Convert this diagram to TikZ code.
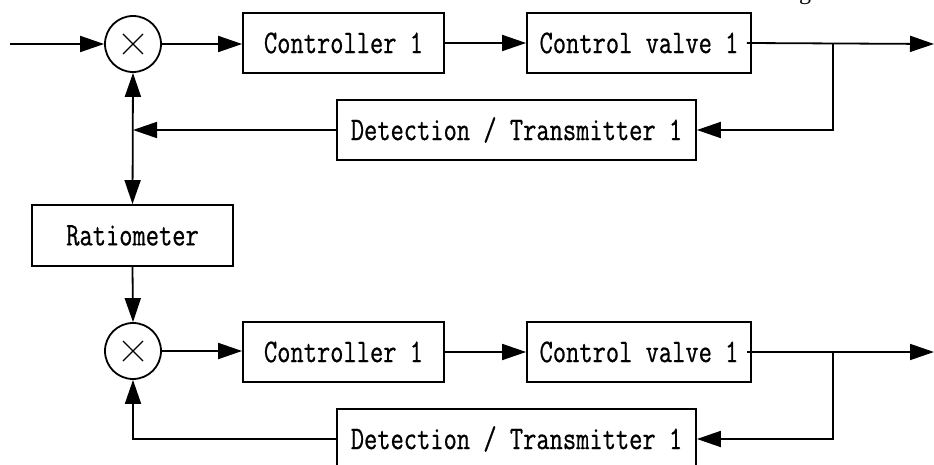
\documentclass[tikz,border=0pt]{standalone}
\usepackage{fontspec}
\setmainfont{Liberation Serif}
\newfontfamily\lblfont{Latin Modern Mono}[FakeStretch=0.78, FakeBold=0.6]
\usetikzlibrary{arrows.meta}

% narrow monospaced label text
\newcommand{\lbltext}[1]{{\lblfont\fontsize{33}{33}\selectfont #1}}

\begin{document}
\begin{tikzpicture}[x=1pt,y=-1pt,
  line width=1.8pt,
  block/.style={draw, rectangle, minimum height=60pt, inner sep=0pt},
  mult/.style={draw, circle, minimum size=56pt, inner sep=0pt},
  arr/.style={-{Triangle[length=24pt,width=16pt]}},
  darr/.style={{Triangle[length=24pt,width=16pt]}-{Triangle[length=24pt,width=16pt]}}
]
\useasboundingbox (0,0) rectangle (934,465);
\clip (0,0) rectangle (934,465);

% fragment of the caption line above
\node[anchor=base, inner sep=0pt, font=\fontsize{24}{24}\selectfont] (cap) at (805,0) {g};

% upper loop
\node[mult] (m1) at (133,44) {};
\draw[line width=1.3pt] ([shift={(-10,-10)}]m1.center) -- ([shift={(10,10)}]m1.center)
                        ([shift={(-10,10)}]m1.center) -- ([shift={(10,-10)}]m1.center);
\node[block, minimum width=201pt] (ctl1) at (343.5,43) {\lbltext{Controller 1}};
\node[block, minimum width=224pt] (cv1) at (639,43) {\lbltext{Control valve 1}};
\node[block, minimum width=359pt] (det1) at (516.5,130) {\lbltext{Detection / Transmitter 1}};

% ratio station
\node[block, minimum width=201pt, minimum height=61pt] (ratio) at (132.5,235.5) {\lbltext{Ratiometer}};

% lower loop
\node[mult] (m2) at (133,351) {};
\draw[line width=1.3pt] ([shift={(-10,-10)}]m2.center) -- ([shift={(10,10)}]m2.center)
                        ([shift={(-10,10)}]m2.center) -- ([shift={(10,-10)}]m2.center);
\node[block, minimum width=201pt] (ctl2) at (343.5,352) {\lbltext{Controller 1}};
\node[block, minimum width=224pt] (cv2) at (639,352) {\lbltext{Control valve 1}};
\node[block, minimum width=359pt] (det2) at (516.5,439) {\lbltext{Detection / Transmitter 1}};

% free ends and branch points
\coordinate (in1) at (10,44);
\coordinate (out1) at (934,44);
\coordinate (j1) at (833,44);
\coordinate (out2) at (934,352);
\coordinate (j2) at (833,352);
\coordinate (fb1) at (m1.center |- det1.west);

% upper loop connectors
\draw[arr] (in1) -- (m1.west);
\draw[arr] (m1.east) -- (ctl1.west |- m1.east);
\draw[arr] (ctl1.east) -- (cv1.west);
\draw[arr] ([xshift=-5pt]cv1.east) -- (out1);
\draw[arr] (j1) |- (det1.east);
\draw[arr] (det1.west) -- (fb1);

% ratio connectors
\draw[darr] (m1.south) -- (ratio.north);
\draw[arr] (ratio.south) -- (m2.north);

% lower loop connectors
\draw[arr] (m2.east) -- (ctl2.west |- m2.east);
\draw[arr] (ctl2.east) -- (cv2.west);
\draw[arr] ([xshift=-5pt]cv2.east) -- (out2);
\draw[arr] (j2) |- (det2.east);
\draw[arr] (det2.west) -| (m2.south);
\end{tikzpicture}
\end{document}
